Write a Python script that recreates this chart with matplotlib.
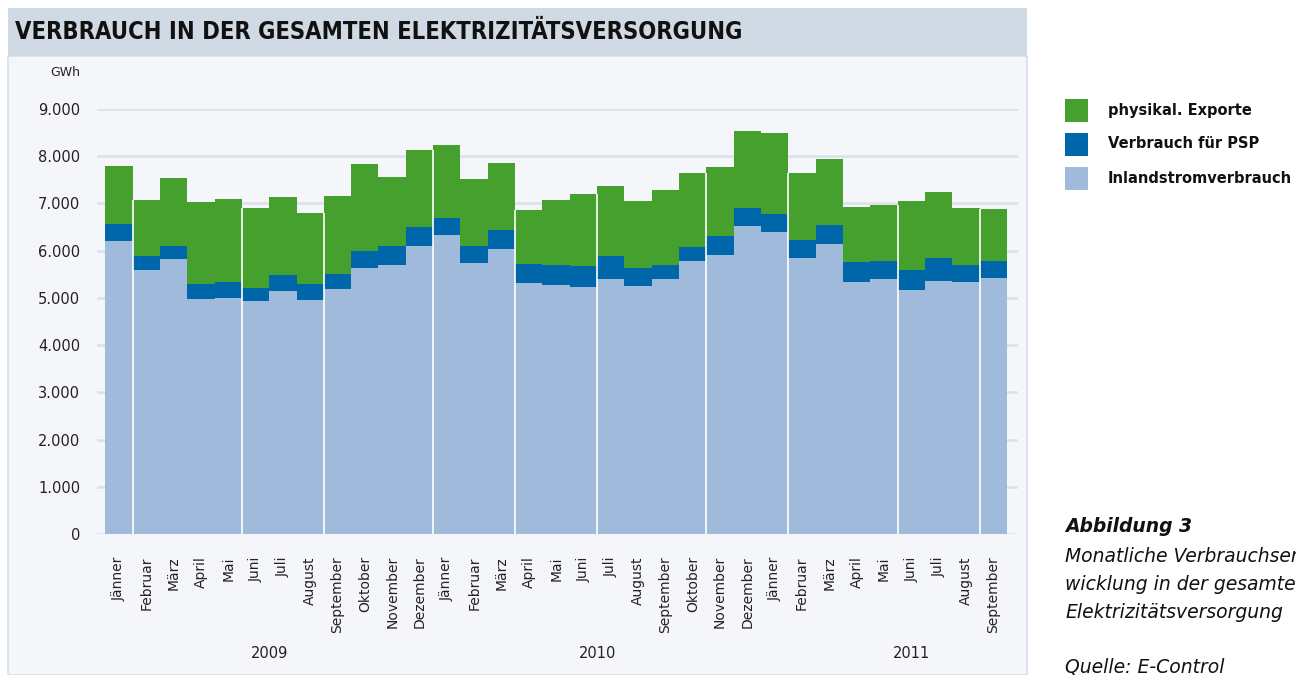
import matplotlib
matplotlib.use("Agg")
import matplotlib.pyplot as plt
import matplotlib.transforms as mtransforms
from matplotlib.patches import Rectangle
import numpy as np

months = ["Jänner", "Februar", "März", "April", "Mai", "Juni", "Juli", "August",
          "September", "Oktober", "November", "Dezember",
          "Jänner", "Februar", "März", "April", "Mai", "Juni", "Juli", "August",
          "September", "Oktober", "November", "Dezember",
          "Jänner", "Februar", "März", "April", "Mai", "Juni", "Juli", "August",
          "September"]
years = ["2009", "2010", "2011"]
year_pos = [5.5, 17.5, 29.0]

# cumulative tops (GWh)
inland = [6205, 5591, 5824, 4977, 4998, 4934, 5146, 4956, 5188, 5633, 5697, 6099,
          6332, 5739, 6036, 5316, 5273, 5231, 5400, 5252, 5400, 5781, 5909, 6523,
          6395, 5845, 6141, 5337, 5400, 5167, 5358, 5337, 5421]
psp_top = [6565, 5887, 6099, 5294, 5337, 5210, 5485, 5294, 5506, 5993, 6099, 6501,
           6692, 6099, 6438, 5718, 5697, 5676, 5887, 5633, 5697, 6078, 6311, 6904,
           6777, 6226, 6544, 5760, 5781, 5591, 5845, 5697, 5781]
total = [7793, 7073, 7539, 7031, 7094, 6904, 7137, 6798, 7158, 7836, 7560, 8132,
         8238, 7518, 7857, 6861, 7073, 7200, 7370, 7052, 7285, 7645, 7772, 8535,
         8492, 7645, 7942, 6925, 6967, 7052, 7243, 6904, 6883]

# bar boundaries (index of the bar on the right) where thin white gaps show
gap_after = [1, 5, 8, 12, 15, 18, 22, 25, 29, 32]

inland = np.array(inland)
psp = np.array(psp_top) - inland
exports = np.array(total) - np.array(psp_top)
total_arr = np.array(total)

series_names = ["physikal. Exporte", "Verbrauch für PSP", "Inlandstromverbrauch"]
c_green = "#45a02e"
c_dark = "#0066aa"
c_light = "#a0badb"

W, H = 1296, 675
fig = plt.figure(figsize=(W / 100, H / 100), dpi=100)
fig.patch.set_facecolor("white")

def fx(px):
    return px / W

def fy(py):
    return 1 - py / H

# panel background
fig.patches.append(Rectangle((fx(8), fy(675)), fx(1027) - fx(8), fy(56) - fy(675),
                             transform=fig.transFigure, facecolor="#f4f6fa",
                             edgecolor="#d6dee8", linewidth=1.2, zorder=-5))
# title banner
fig.patches.append(Rectangle((fx(8), fy(56)), fx(1027) - fx(8), fy(8) - fy(56),
                             transform=fig.transFigure, facecolor="#cfdae4",
                             edgecolor="none", zorder=-5))
fig.text(fx(15), fy(32), "VERBRAUCH IN DER GESAMTEN ELEKTRIZITÄTSVERSORGUNG",
         fontsize=17, fontweight="bold", va="center", ha="left", color="#111111",
         family="DejaVu Sans", fontstretch="condensed")

ax = fig.add_axes([fx(97), fy(534), fx(1018) - fx(97), fy(109) - fy(534)])
ax.set_zorder(2)
ax.set_facecolor("none")
x = np.arange(len(months))
ax.bar(x, inland, width=1.0, color=c_light, linewidth=0, zorder=2)
ax.bar(x, psp, width=1.0, bottom=inland, color=c_dark, linewidth=0, zorder=2)
ax.bar(x, exports, width=1.0, bottom=inland + psp, color=c_green, linewidth=0, zorder=2)

# thin white gaps between some bars
for g in gap_after:
    top = min(total_arr[g - 1], total_arr[g])
    ax.vlines(g - 0.5, 0, top, color="white", linewidth=1.2, zorder=3)

ax.set_ylim(0, 9000)
ax.set_xlim(-0.5 - 0.3, len(months) - 0.5 + 0.4)
yt = np.arange(0, 9001, 1000)
ax.set_yticks(yt)
ax.set_yticklabels([f"{v:,}".replace(",", ".") for v in yt], fontsize=10.5, color="#222222")
ax.yaxis.grid(True, color="#dae1ea", linewidth=1.8, zorder=1)
ax.set_axisbelow(True)
for s in ax.spines.values():
    s.set_visible(False)
ax.tick_params(axis="y", length=0, pad=12)
ax.set_xticks(x)
ax.set_xticklabels(months, rotation=90, fontsize=10, color="#222222", va="top", ha="center")
ax.tick_params(axis="x", length=0, pad=16)

trans = mtransforms.blended_transform_factory(ax.transData, ax.transAxes)
for yl, yp in zip(years, year_pos):
    ax.text(yp, -0.282, yl, transform=trans, ha="center", va="center", fontsize=10.5,
            color="#222222")

fig.text(fx(50), fy(73), "GWh", fontsize=9, ha="left", va="center", color="#222222")

# legend
colors = [c_green, c_dark, c_light]
for i, (nm, col) in enumerate(zip(series_names, colors)):
    cy = 110 + 34 * i
    fig.patches.append(Rectangle((fx(1065), fy(cy + 11.5)), fx(23), 23 / H,
                                 transform=fig.transFigure, facecolor=col,
                                 edgecolor="none"))
    fig.text(fx(1108), fy(cy), nm, fontsize=10.5, fontweight="bold", ha="left",
             va="center", color="#111111")

fig.text(fx(1065), fy(527), "Abbildung 3", fontsize=13.5, fontweight="bold",
         fontstyle="italic", ha="left", va="center", color="#111111")
for i, line in enumerate(["Monatliche Verbrauchsent-", "wicklung in der gesamten",
                          "Elektrizitätsversorgung"]):
    fig.text(fx(1065), fy(556 + 28 * i), line, fontsize=13.5, fontstyle="italic",
             ha="left", va="center", color="#111111")
fig.text(fx(1065), fy(667), "Quelle: E-Control", fontsize=13.5, fontstyle="italic",
         ha="left", va="center", color="#111111")

fig.savefig("out.png", dpi=100)
